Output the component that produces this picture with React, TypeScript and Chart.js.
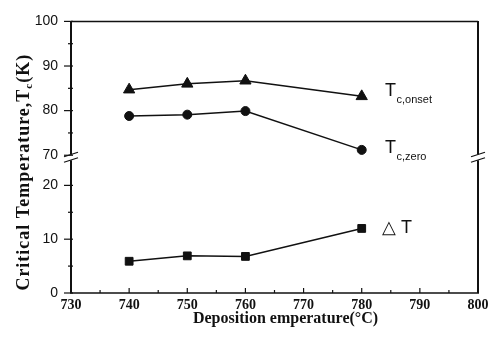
import React, { useEffect, useRef } from 'react';
import { Chart, registerables } from 'chart.js';

Chart.register(...registerables);

// ---- data ----
const temperatures = [740, 750, 760, 780];
const tcOnset = [84.7, 86.0, 86.7, 83.2];
const tcZero = [78.8, 79.1, 79.9, 71.2];
const deltaT = [5.9, 6.9, 6.8, 12.0];

const xTickValues = [730, 735, 740, 745, 750, 755, 760, 765, 770, 775, 780, 785, 790, 795, 800];
const yTopTickValues = [70, 75, 80, 85, 90, 95, 100];
const yBottomTickValues = [0, 5, 10, 15, 20];

const xTitle = 'Deposition emperature(\u00B0C)';
const yTitleMain = 'Critical Temperature,T';
const yTitleSub = 'c';
const yTitleEnd = '(K)';

const seriesLabels = [
  { main: 'T', sub: 'c,onset' },
  { main: 'T', sub: 'c,zero' },
  { main: '\u25B3 T', sub: '' },
];

const SERIF = '"Liberation Serif", "Times New Roman", serif';
const SANS = '"Liberation Sans", Arial, sans-serif';

const decorPlugin = {
  id: 'decor',
  afterDraw(chart: any) {
    const { ctx, chartArea: a, scales } = chart;
    const x = scales.x;
    const yt = scales.yTop;
    const yb = scales.yBot;
    const brk = yt.bottom + 2;
    ctx.save();
    ctx.strokeStyle = '#111';
    ctx.lineCap = 'butt';
    const line = (x1: number, y1: number, x2: number, y2: number, w = 1.5) => {
      ctx.lineWidth = w;
      ctx.beginPath();
      ctx.moveTo(x1, y1);
      ctx.lineTo(x2, y2);
      ctx.stroke();
    };
    // frame
    line(a.left, a.top, a.right, a.top, 1.5);
    line(a.left - 1, a.bottom, a.right + 1, a.bottom, 1.5);
    for (const sx of [a.left, a.right]) {
      line(sx, a.top - 0.5, sx, brk - 3, 2);
      line(sx, brk + 3, sx, a.bottom, 2);
      line(sx - 7, brk - 0.5, sx + 7, brk - 5, 1.3);
      line(sx - 7, brk + 5, sx + 7, brk + 0.5, 1.3);
    }
    // x ticks (inward)
    for (const t of x.ticks) {
      const px = x.getPixelForValue(t.value);
      const major = t.value % 10 === 0;
      line(px, a.bottom, px, a.bottom - (major ? 5 : 3), 1.2);
    }
    // y ticks
    for (const sc of [yt, yb]) {
      for (const t of sc.ticks) {
        const py = sc.getPixelForValue(t.value);
        const major = t.value % 10 === 0;
        if (major) line(a.left - 7, py, a.left + 2, py, 1.2);
        else line(a.left - 3, py, a.left + 2, py, 1.2);
      }
    }
    ctx.fillStyle = '#111';

    // x title
    ctx.font = `bold 16px ${SERIF}`;
    ctx.textAlign = 'center';
    ctx.textBaseline = 'middle';
    ctx.fillText(xTitle, (a.left + a.right) / 2 + 11, a.bottom + 26);

    // y title
    ctx.save();
    ctx.translate(24, (a.top + a.bottom) / 2 + 15);
    ctx.rotate(-Math.PI / 2);
    try { (ctx as any).letterSpacing = '1px'; } catch (e) {}
    const big = `bold 18px ${SERIF}`;
    const small = `bold 11px ${SERIF}`;
    ctx.font = big;
    const w1 = ctx.measureText(yTitleMain).width;
    const w3 = ctx.measureText(yTitleEnd).width;
    ctx.font = small;
    const w2 = ctx.measureText(yTitleSub).width;
    let sx = -(w1 + w2 + w3) / 2;
    ctx.textBaseline = 'middle';
    ctx.textAlign = 'left';
    ctx.font = big;
    ctx.fillText(yTitleMain, sx, 0);
    sx += w1;
    ctx.font = small;
    ctx.fillText(yTitleSub, sx, 5);
    sx += w2;
    ctx.font = big;
    ctx.fillText(yTitleEnd, sx, 0);
    ctx.restore();

    // series labels
    const lab = (i: number, xv: number, py: number) => {
      const px = x.getPixelForValue(xv);
      const L = seriesLabels[i];
      ctx.textBaseline = 'middle';
      ctx.textAlign = 'left';
      ctx.font = `18px ${SANS}`;
      ctx.fillText(L.main, px, py);
      const w = ctx.measureText(L.main).width;
      if (L.sub) {
        ctx.font = `11px ${SANS}`;
        ctx.fillText(L.sub, px + w + 0.5, py + 9);
      }
    };
    lab(0, 784, yt.getPixelForValue(tcOnset[3]) - 5);
    lab(1, 784, yt.getPixelForValue(tcZero[3]) - 2);
    lab(2, 783.5, yb.getPixelForValue(deltaT[3]));
    ctx.restore();
  },
};

export default function App() {
  const ref = useRef<HTMLCanvasElement | null>(null);
  useEffect(() => {
    document.body.style.margin = '0';
    const canvas = ref.current!;
    const chart = new Chart(canvas, {
      type: 'line',
      data: {
        datasets: [
          {
            label: 'Tc,onset',
            data: temperatures.map((t, i) => ({ x: t, y: tcOnset[i] })),
            yAxisID: 'yTop',
            borderColor: '#111',
            backgroundColor: '#111',
            borderWidth: 1.5,
            pointStyle: 'triangle',
            pointRadius: 6.5,
            pointBorderWidth: 1,
          },
          {
            label: 'Tc,zero',
            data: temperatures.map((t, i) => ({ x: t, y: tcZero[i] })),
            yAxisID: 'yTop',
            borderColor: '#111',
            backgroundColor: '#111',
            borderWidth: 1.5,
            pointStyle: 'circle',
            pointRadius: 4.5,
            pointBorderWidth: 1,
          },
          {
            label: '\u0394T',
            data: temperatures.map((t, i) => ({ x: t, y: deltaT[i] })),
            yAxisID: 'yBot',
            borderColor: '#111',
            backgroundColor: '#111',
            borderWidth: 1.5,
            pointStyle: 'rect',
            pointRadius: 5.5,
            pointBorderWidth: 1,
          },
        ],
      },
      options: {
        animation: false,
        responsive: false,
        clip: false as any,
        layout: { padding: { top: 15, right: 15, left: 0, bottom: 0 } },
        plugins: { legend: { display: false }, tooltip: { enabled: false } },
        scales: {
          x: {
            type: 'linear',
            min: 730,
            max: 800,
            afterBuildTicks: (s: any) => {
              s.ticks = xTickValues.map((v) => ({ value: v }));
            },
            afterFit: (s: any) => {
              s.height = 52;
            },
            grid: { display: false, drawTicks: false },
            border: { display: false },
            ticks: {
              padding: 4,
              color: '#111',
              font: { family: SERIF, size: 14, weight: 'bold' },
              callback: (v: any) => (Number(v) % 10 === 0 ? String(v) : ''),
              maxRotation: 0,
              autoSkip: false,
            },
          },
          yBot: {
            type: 'linear',
            position: 'left',
            stack: 'y',
            stackWeight: 141,
            min: 0,
            max: 25.6,
            afterBuildTicks: (s: any) => {
              s.ticks = yBottomTickValues.map((v) => ({ value: v }));
            },
            afterFit: (s: any) => {
              s.width = 71;
            },
            grid: { display: false, drawTicks: false },
            border: { display: false },
            ticks: {
              padding: 13,
              color: '#111',
              font: { family: SANS, size: 14 },
              callback: (v: any) => (Number(v) % 10 === 0 ? String(v) : ''),
              autoSkip: false,
            },
          },
          yTop: {
            type: 'linear',
            position: 'left',
            stack: 'y',
            stackWeight: 137,
            min: 70,
            max: 100,
            afterBuildTicks: (s: any) => {
              s.ticks = yTopTickValues.map((v) => ({ value: v }));
            },
            afterFit: (s: any) => {
              s.width = 71;
            },
            grid: { display: false, drawTicks: false },
            border: { display: false },
            ticks: {
              padding: 13,
              color: '#111',
              font: { family: SANS, size: 14 },
              callback: (v: any) => (Number(v) % 10 === 0 ? String(v) : ''),
              autoSkip: false,
            },
          },
        },
      } as any,
      plugins: [decorPlugin],
    });
    return () => chart.destroy();
  }, []);
  return (
    <div style={{ width: 493, height: 345, background: '#fff' }}>
      <canvas ref={ref} width={493} height={345} style={{ display: 'block' }} />
    </div>
  );
}
